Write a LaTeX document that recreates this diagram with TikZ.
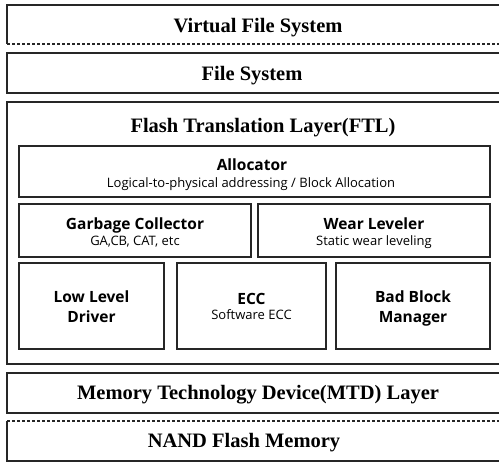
\documentclass[tikz,border=0pt]{standalone}
\usepackage{fontspec}
\setmainfont{Liberation Serif}
\newfontfamily\innerfont{Open Sans}
\begin{document}
\begin{tikzpicture}[x=1pt,y=-1pt,
  boxline/.style={draw=black!85,line width=1.3pt},
  outertitle/.style={font=\fontsize{20.5}{22}\selectfont\bfseries,inner sep=0pt,anchor=base},
  innerbox/.style={boxline,fill=white},
  innertitle/.style={font=\innerfont\fontsize{15.5}{20}\selectfont\bfseries,align=center,inner sep=0pt,anchor=base},
  innersub/.style={font=\innerfont\fontsize{13}{15}\selectfont,inner sep=0pt,anchor=base}]
\useasboundingbox (0,0) rectangle (499,463);
\clip (0,0) rectangle (499,463);
% Virtual File System
\draw[boxline] (520,5) -- (7,5) -- (7,44);
\draw[boxline,dashed,dash pattern=on 3pt off 2pt] (7,44) -- (520,44);
\node[outertitle] (vfs) at (258,32) {Virtual File System};
% File System
\draw[boxline] (520,53) -- (7,53) -- (7,93) -- (520,93);
\node[outertitle] (fs) at (252,80) {File System};
% FTL
\draw[boxline] (520,102) -- (7,102) -- (7,364) -- (520,364);
\node[outertitle] (ftl) at (263,132) {Flash Translation Layer(FTL)};
% Allocator
\draw[innerbox] (19,146) rectangle (490,197);
\node[innertitle] (alloc) at (252,170) {Allocator};
\node[innersub] (allocsub) at (251,187) {Logical-to-physical addressing / Block Allocation};
% GC / WL
\draw[innerbox] (19,204) rectangle (251,257);
\node[innertitle] (gc) at (135,229) {Garbage Collector};
\node[innersub] (gcsub) at (135,245) {GA,CB, CAT, etc};
\draw[innerbox] (258,204) rectangle (490,257);
\node[innertitle] (wl) at (374,229) {Wear Leveler};
\node[innersub] (wlsub) at (374,245) {Static wear leveling};
% Bottom row
\draw[innerbox] (19,263) rectangle (164,349);
\node[innertitle] (lld) at (91.5,322) {Low Level\\Driver};
\draw[innerbox] (177,263) rectangle (326,349);
\node[innertitle] (ecc) at (251.5,304) {ECC};
\node[innersub] (eccsub) at (251.5,319) {Software ECC};
\draw[innerbox] (336,263) rectangle (490,349);
\node[innertitle] (bbm) at (413,322) {Bad Block\\Manager};
% MTD
\draw[boxline] (520,373) -- (7,373) -- (7,413) -- (520,413);
\node[outertitle] (mtd) at (258,399) {Memory Technology Device(MTD) Layer};
% NAND
\draw[boxline,dashed,dash pattern=on 3pt off 2pt] (7,421) -- (520,421);
\draw[boxline] (7,421) -- (7,461) -- (520,461);
\node[outertitle] (nand) at (244,447) {NAND Flash Memory};
\end{tikzpicture}
\end{document}
